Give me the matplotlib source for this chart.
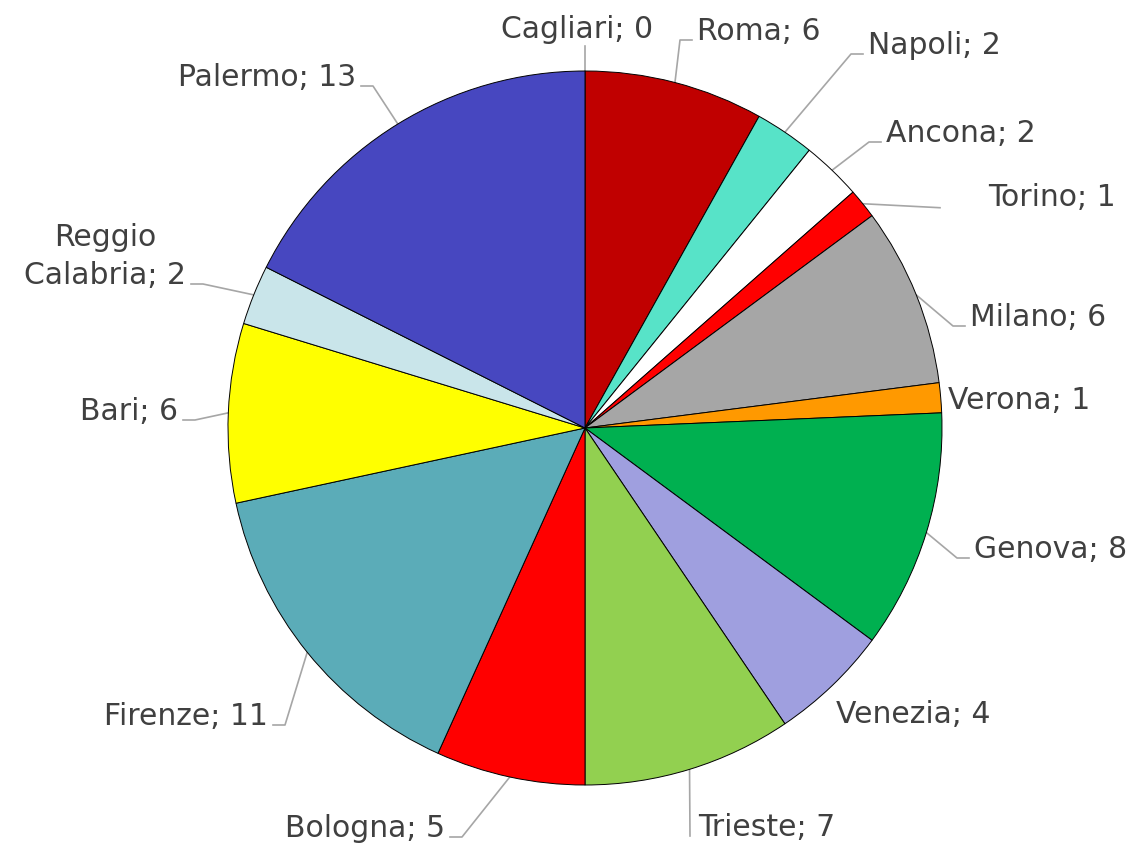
import matplotlib.pyplot as plt
import numpy as np

W, H = 1142, 847

cities = ["Cagliari", "Roma", "Napoli", "Ancona", "Torino", "Milano", "Verona",
          "Genova", "Venezia", "Trieste", "Bologna", "Firenze", "Bari",
          "Reggio\nCalabria", "Palermo"]
counts = [0, 6, 2, 2, 1, 6, 1, 8, 4, 7, 5, 11, 6, 2, 13]
colors = ["#FFFFFF", "#C00000", "#57E3C8", "#FFFFFF", "#FF0000", "#A6A6A6", "#FF9900",
          "#00B050", "#9F9FDF", "#92D050", "#FF0000", "#5BACB8", "#FFFF00",
          "#C9E5EA", "#4747C0"]

# label layout in pixel coords (y from top): text x, baseline y, ha, leader style
layout = {
    "Cagliari": (577, 38, "center", "vert"),
    "Roma": (697, 40, "left", "elbow"),
    "Napoli": (868, 54, "left", "elbow"),
    "Ancona": (886, 142, "left", "elbow"),
    "Torino": (988, 206, "left", "straight"),
    "Milano": (970, 326, "left", "elbow"),
    "Verona": (948, 409, "left", None),
    "Genova": (974, 558, "left", "elbow"),
    "Venezia": (836, 723, "left", None),
    "Trieste": (698, 836, "left", "vert"),
    "Bologna": (445, 837, "right", "elbow"),
    "Firenze": (268, 725, "right", "elbow"),
    "Bari": (178, 420, "right", "elbow"),
    "Reggio\nCalabria": (186, 284, "right", "elbow"),
    "Palermo": (356, 86, "right", "elbow"),
}

cx, cy, R = 585, 428, 357
FS = 21.5

fig = plt.figure(figsize=(W / 100, H / 100), dpi=100)
ax = fig.add_axes([0, 0, 1, 1])

ax.pie(counts, colors=colors, startangle=90, counterclock=False,
       center=(cx, H - cy), radius=R,
       wedgeprops=dict(edgecolor="black", linewidth=0.7))
ax.set_xlim(0, W)
ax.set_ylim(0, H)
ax.set_aspect("equal")
ax.axis("off")

grey = "#A6A6A6"
txtc = "#404040"
total = sum(counts)
cum = 0
for name, v in zip(cities, counts):
    mid = (cum + v / 2) / total * 2 * np.pi
    cum += v
    px = cx + R * np.sin(mid)
    py = cy - R * np.cos(mid)
    tx, ty, ha, mode = layout[name]
    label = f"{name}; {v}"
    if "\n" in name:
        ax.text(tx, H - ty, label, ha=ha, va="baseline", fontsize=FS,
                color=txtc, linespacing=1.4, multialignment="center")
    else:
        ax.text(tx, H - ty, label, ha=ha, va="baseline", fontsize=FS, color=txtc)
    side = 1 if ha == "left" else -1
    if mode == "elbow":
        xs = [px, tx - side * 17, tx - side * 5]
        ys = [py, ty, ty]
    elif mode == "vert":
        if name == "Cagliari":
            xs, ys = [px, px], [py, ty + 8]
        else:
            xs, ys = [px, tx - 8], [py, ty]
    elif mode == "straight":
        xs, ys = [px, 940], [py, py + 4]
    else:
        continue
    ax.plot(xs, [H - y for y in ys], color=grey, linewidth=1.2, zorder=0)

fig.savefig("out.png", dpi=100)
